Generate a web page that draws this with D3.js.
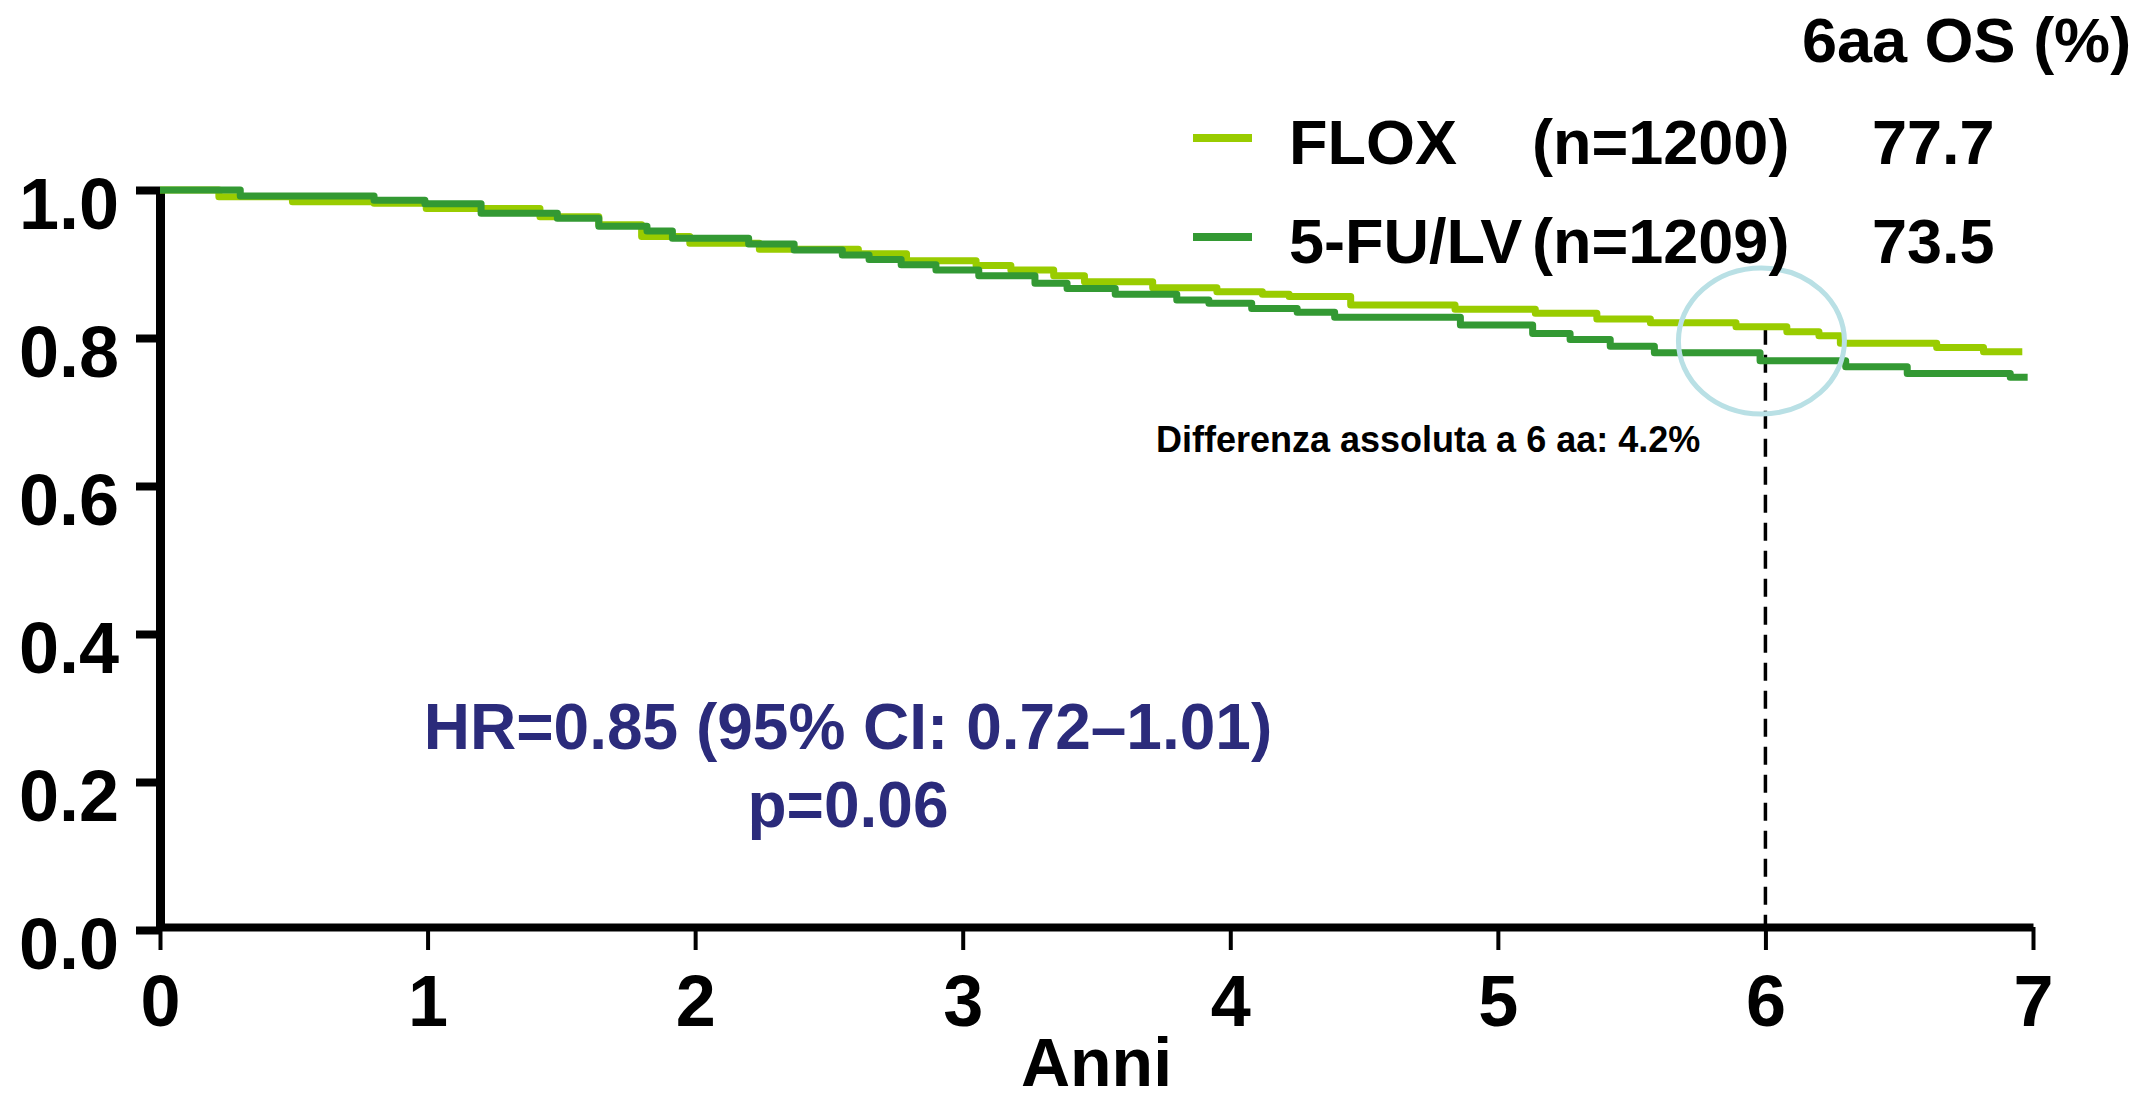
<!DOCTYPE html>
<html>
<head>
<meta charset="utf-8">
<script src="https://cdn.jsdelivr.net/npm/d3@7"></script>
<style>
  body { margin: 0; background: #fff; }
  text { font-family: "Liberation Sans", Arial, sans-serif; font-weight: bold; }
</style>
</head>
<body>
<div id="my_dataviz"></div>
<script>
// kaplan-meier steps: [anni, sopravvivenza]
var floxSteps = [
  [0, 1.0], [0.22, 0.991], [0.495, 0.984], [0.80, 0.982], [0.995, 0.975],
  [1.42, 0.964], [1.64, 0.953], [1.80, 0.937], [1.98, 0.928], [2.24, 0.920],
  [2.61, 0.914], [2.79, 0.9045], [3.05, 0.898], [3.18, 0.892], [3.34, 0.884],
  [3.455, 0.876], [3.71, 0.868], [3.95, 0.8626], [4.12, 0.859], [4.22, 0.856],
  [4.45, 0.8446], [4.84, 0.839], [5.14, 0.8333], [5.37, 0.8257], [5.57, 0.8207],
  [5.89, 0.8153], [6.08, 0.8086], [6.20, 0.803], [6.28, 0.793], [6.64, 0.787],
  [6.815, 0.7815], [6.96, 0.7815]
];
var fuSteps = [
  [0, 1.0], [0.30, 0.992], [0.80, 0.986], [0.99, 0.9815], [1.20, 0.9685],
  [1.485, 0.9617], [1.64, 0.951], [1.82, 0.9446], [1.915, 0.9347], [2.20, 0.927],
  [2.37, 0.919], [2.55, 0.912], [2.65, 0.906], [2.77, 0.899], [2.90, 0.892],
  [3.06, 0.884], [3.27, 0.874], [3.39, 0.867], [3.57, 0.859], [3.80, 0.8514],
  [3.92, 0.847], [4.08, 0.84], [4.25, 0.8347], [4.39, 0.828], [4.86, 0.8176],
  [5.13, 0.806], [5.27, 0.798], [5.42, 0.789], [5.585, 0.780], [5.98, 0.7694],
  [6.30, 0.761], [6.53, 0.752], [6.915, 0.747], [6.98, 0.747]
];

var xTicks = [0, 1, 2, 3, 4, 5, 6, 7];
var yTicks = [0, 0.2, 0.4, 0.6, 0.8, 1.0];

var legendNames = ["FLOX", "5-FU/LV"];
var legendN = ["(n=1200)", "(n=1209)"];
var legendOS = ["77.7", "73.5"];
var legendColors = ["#99cc00", "#339933"];

var hrText = ["HR=0.85 (95% CI: 0.72\u20131.01)", "p=0.06"];
var diffText = "Differenza assoluta a 6 aa: 4.2%";
var markYear = 6;

var width = 2139, height = 1103;

var svg = d3
  .select("#my_dataviz")
  .append("svg")
  .attr("width", width)
  .attr("height", height);

var x = d3.scaleLinear().domain([0, 7]).range([160, 2033]);
var y = d3.scaleLinear().domain([0, 1]).range([930, 190]);

// y axis
var yAxis = svg
  .append("g")
  .attr("transform", "translate(" + x(0) + ",0)")
  .call(d3.axisLeft(y).tickValues(yTicks).tickSize(24).tickSizeOuter(0).tickPadding(17)
    .tickFormat(d3.format(".1f")));
yAxis.select(".domain").attr("stroke-width", 9);
yAxis.selectAll(".tick line").attr("stroke-width", 8);
yAxis.selectAll(".tick text")
  .attr("font-size", 72)
  .attr("fill", "#000")
  .attr("dy", "0.53em");

// x axis
var xAxis = svg
  .append("g")
  .attr("transform", "translate(0,927)")
  .call(d3.axisBottom(x).tickValues(xTicks).tickSize(23).tickSizeOuter(0).tickPadding(25)
    .tickFormat(d3.format("d")));
xAxis.select(".domain").attr("stroke-width", 8);
xAxis.selectAll(".tick line").attr("stroke-width", 4);
xAxis.selectAll(".tick text")
  .attr("font-size", 72)
  .attr("fill", "#000");

svg.append("text")
  .attr("x", (x(0) + x(7)) / 2)
  .attr("y", 1086)
  .attr("text-anchor", "middle")
  .attr("font-size", 68)
  .text("Anni");

// dashed line at 6 years
svg.append("line")
  .attr("x1", x(markYear)).attr("x2", x(markYear))
  .attr("y1", y(0.8153)).attr("y2", y(0) - 4)
  .attr("stroke", "#000")
  .attr("stroke-width", 3.5)
  .attr("stroke-dasharray", "18,10");

// survival curves
var line = d3.line()
  .x(function (d) { return x(d[0]); })
  .y(function (d) { return y(d[1]); })
  .curve(d3.curveStepAfter);

[floxSteps, fuSteps].forEach(function (s, i) {
  svg.append("path")
    .datum(s)
    .attr("d", line)
    .attr("fill", "none")
    .attr("stroke", legendColors[i])
    .attr("stroke-width", 7)
    .attr("stroke-linejoin", "round");
});

// highlight circle
svg.append("ellipse")
  .attr("cx", x(markYear) - 4)
  .attr("cy", 341)
  .attr("rx", 83)
  .attr("ry", 73)
  .attr("fill", "none")
  .attr("stroke", "#b9e0e5")
  .attr("stroke-width", 5);

svg.append("text")
  .attr("x", 1156)
  .attr("y", 452)
  .attr("font-size", 36)
  .text(diffText);

// legend
svg.append("text")
  .attr("x", 1802)
  .attr("y", 62)
  .attr("font-size", 63)
  .text("6aa OS (%)");

var rowY = [164, 263];
legendNames.forEach(function (name, i) {
  svg.append("line")
    .attr("x1", 1193).attr("x2", 1252)
    .attr("y1", rowY[i] - 26).attr("y2", rowY[i] - 26)
    .attr("stroke", legendColors[i])
    .attr("stroke-width", 8);
  svg.append("text").attr("x", 1289).attr("y", rowY[i]).attr("font-size", 63).text(name);
  svg.append("text").attr("x", 1532).attr("y", rowY[i]).attr("font-size", 63).text(legendN[i]);
  svg.append("text").attr("x", 1872).attr("y", rowY[i]).attr("font-size", 63).text(legendOS[i]);
});

// hazard ratio
svg.selectAll(".hr")
  .data(hrText)
  .enter()
  .append("text")
  .attr("class", "hr")
  .attr("x", 848)
  .attr("y", function (d, i) { return i === 0 ? 749 : 827; })
  .attr("text-anchor", "middle")
  .attr("font-size", 64)
  .attr("fill", "#2b2b7b")
  .text(function (d) { return d; });
</script>
</body>
</html>
